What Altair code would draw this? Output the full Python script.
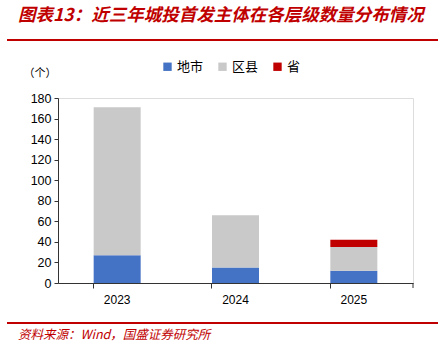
import altair as alt
import pandas as pd

years = ["2023", "2024", "2025"]
series = ["地市", "区县", "省"]
city = [27, 15, 12]
county = [144, 51, 23]
province = [0, 0, 7]
colors = ["#4472C4", "#C9C9C9", "#C00000"]
y_ticks = [0, 20, 40, 60, 80, 100, 120, 140, 160, 180]

rows = []
for i, y in enumerate(years):
    for j, (s, vals) in enumerate(zip(series, [city, county, province])):
        rows.append({"year": y, "level": s, "value": vals[i], "ord": j})
df = pd.DataFrame(rows)

W, H = 355, 185
FONT = "Liberation Sans"
CJK = "Noto Sans CJK SC"

bars = alt.Chart(df).mark_bar(size=47).encode(
    x=alt.X("year:N", sort=years, title=None,
            scale=alt.Scale(paddingInner=0.6, paddingOuter=0.3),
            axis=alt.Axis(labelAngle=0, bandPosition=0, tickSize=5, tickColor="#333333",
                          domainColor="#333333", labelFont=FONT, labelFontSize=12,
                          labelColor="#000000", labelPadding=6, grid=False)),
    y=alt.Y("value:Q", stack="zero", title=None,
            scale=alt.Scale(domain=[0, 180], nice=False),
            axis=alt.Axis(values=y_ticks, tickSize=4, tickColor="#333333", domainColor="#333333",
                          labelFont=FONT, labelFontSize=12.5, labelColor="#000000",
                          labelPadding=3, grid=False)),
    color=alt.Color("level:N", sort=series,
                    scale=alt.Scale(domain=series, range=colors),
                    legend=alt.Legend(title=None, orient="none", direction="horizontal",
                                      legendX=103, legendY=-38, symbolType="square",
                                      symbolSize=70, symbolStrokeWidth=0,
                                      labelFont=CJK, labelFontSize=13, labelColor="#000000",
                                      columnPadding=12, labelOffset=3)),
    order=alt.Order("ord:Q"),
)

one = alt.Data(values=[{"a": 1}])

end_tick = alt.Chart(one).mark_rule(color="#333333").encode(
    x=alt.value(W), y=alt.value(H), y2=alt.value(H + 5))

title = alt.Chart(one).mark_text(
    text="图表13：近三年城投首发主体在各层级数量分布情况", font=CJK, fontSize=17.5,
    fontWeight="bold", fontStyle="italic", color="#C00000", align="left", baseline="middle"
).encode(x=alt.value(18 - 58), y=alt.value(16 - 98))

top_line = alt.Chart(one).mark_rule(color="#C00000", strokeWidth=2).encode(
    x=alt.value(7 - 58), x2=alt.value(438 - 58), y=alt.value(40 - 98))

unit = alt.Chart(one).mark_text(
    text="（个）", font=CJK, fontSize=11, color="#000000", align="center", baseline="middle"
).encode(x=alt.value(40 - 58), y=alt.value(74 - 98))

bottom_line = alt.Chart(one).mark_rule(color="#C00000", strokeWidth=2).encode(
    x=alt.value(7 - 58), x2=alt.value(438 - 58), y=alt.value(323 - 98))

source = alt.Chart(one).mark_text(
    text="资料来源：Wind，国盛证券研究所", font=CJK, fontSize=12.5, fontStyle="italic",
    color="#C00000", align="left", baseline="middle"
).encode(x=alt.value(18 - 58), y=alt.value(335 - 98))

chart = alt.layer(bars, end_tick, title, top_line, unit, bottom_line, source).properties(
    width=W, height=H,
    autosize=alt.AutoSizeParams(type="none"),
    padding={"left": 58, "top": 98, "right": 448 - 58 - W, "bottom": 352 - 98 - H},
).configure_view(stroke=None).configure(background="white")

chart.save("out.html", embed_options={"renderer": "svg", "actions": False})
